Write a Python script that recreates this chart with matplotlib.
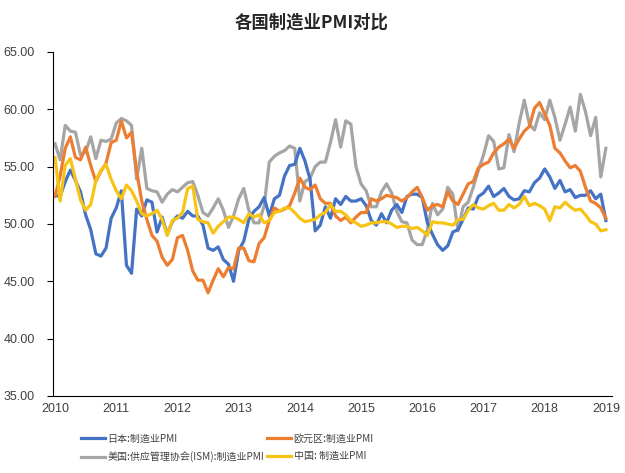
import numpy as np
import matplotlib
matplotlib.use("Agg")
import matplotlib.pyplot as plt

plt.rcParams['font.family'] = ['Liberation Sans', 'Noto Sans CJK SC', 'DejaVu Sans']

# 月度数据: 2010-01 ~ 2019-01
years = [str(y) for y in range(2010, 2020)]

japan = [52.5, 52.4, 53.7, 54.7, 53.8, 52.8, 50.8, 49.5, 47.4, 47.2, 47.9, 50.5,
         51.4, 52.9, 46.4, 45.7, 51.3, 50.7, 52.1, 51.9, 49.3, 50.6, 49.1, 50.2,
         50.7, 50.5, 51.1, 50.7, 50.7, 49.9, 47.9, 47.7, 48.0, 46.9, 46.5, 45.0,
         47.7, 48.5, 50.4, 51.1, 51.5, 52.3, 50.7, 52.2, 52.5, 54.2, 55.1, 55.2,
         56.6, 55.5, 53.9, 49.4, 49.9, 51.5, 50.5, 52.2, 51.7, 52.4, 52.0, 52.0,
         52.2, 51.6, 50.3, 49.9, 50.9, 50.1, 51.2, 51.7, 51.0, 52.4, 52.6, 52.6,
         52.3, 50.1, 49.1, 48.2, 47.7, 48.1, 49.3, 49.5, 50.4, 51.4, 51.3, 52.4,
         52.7, 53.3, 52.4, 52.7, 53.1, 52.4, 52.1, 52.2, 52.9, 52.8, 53.6, 54.0,
         54.8, 54.1, 53.1, 53.8, 52.8, 53.0, 52.3, 52.5, 52.5, 52.9, 52.2, 52.6,
         50.3]

eurozone = [52.4, 54.2, 56.6, 57.6, 55.8, 55.6, 56.7, 55.1, 53.7, 54.6, 55.3, 57.1,
            57.3, 59.0, 57.5, 58.0, 54.6, 52.0, 50.4, 49.0, 48.5, 47.1, 46.4, 46.9,
            48.8, 49.0, 47.7, 45.9, 45.1, 45.1, 44.0, 45.1, 46.1, 45.4, 46.2, 46.1,
            47.9, 47.9, 46.8, 46.7, 48.3, 48.8, 50.3, 51.4, 51.1, 51.3, 51.6, 52.7,
            54.0, 53.2, 53.0, 53.4, 52.2, 51.8, 51.8, 50.7, 50.3, 50.6, 50.1, 50.6,
            51.0, 51.0, 52.2, 52.0, 52.2, 52.5, 52.4, 52.3, 52.0, 52.3, 52.8, 53.2,
            52.3, 51.2, 51.6, 51.7, 51.5, 52.8, 52.0, 51.7, 52.6, 53.5, 53.7, 54.9,
            55.2, 55.4, 56.2, 56.7, 57.0, 57.4, 56.6, 57.4, 58.1, 58.5, 60.1, 60.6,
            59.6, 58.6, 56.6, 56.2, 55.5, 54.9, 55.1, 54.6, 53.2, 52.0, 51.8, 51.4,
            50.5]

usa_ism = [57.0, 55.6, 58.6, 58.1, 58.0, 56.0, 56.3, 57.6, 55.7, 57.3, 57.2, 57.4,
           58.8, 59.2, 59.0, 58.6, 53.9, 56.6, 53.1, 52.9, 52.8, 51.9, 52.6, 53.0,
           52.8, 53.2, 53.6, 53.7, 52.5, 51.0, 50.7, 51.4, 52.2, 51.2, 49.7, 50.7,
           52.2, 53.1, 51.2, 50.1, 50.1, 51.6, 55.4, 55.9, 56.2, 56.4, 56.8, 56.6,
           52.0, 53.7, 54.0, 55.0, 55.4, 55.4, 57.1, 59.1, 56.7, 59.0, 58.7, 55.0,
           53.5, 52.9, 51.5, 51.5, 52.8, 53.5, 52.7, 51.1, 50.2, 50.1, 48.6, 48.2,
           48.2, 49.5, 51.8, 50.8, 51.3, 53.2, 52.6, 49.4, 51.5, 51.9, 53.2, 54.7,
           56.0, 57.7, 57.2, 54.8, 54.9, 57.8, 56.3, 58.8, 60.8, 58.7, 58.2, 59.7,
           59.1, 60.8, 59.3, 57.3, 58.7, 60.2, 58.1, 61.3, 59.8, 57.7, 59.3, 54.1,
           56.6]

china = [55.8, 52.0, 55.1, 55.7, 53.9, 52.1, 51.2, 51.7, 53.8, 54.7, 55.2, 53.9,
         52.9, 52.2, 53.4, 52.9, 52.0, 50.9, 50.7, 50.9, 51.2, 50.4, 49.0, 50.3,
         50.5, 51.0, 53.1, 53.3, 50.4, 50.2, 50.1, 49.2, 49.8, 50.2, 50.6, 50.6,
         50.4, 50.1, 50.9, 50.6, 50.8, 50.1, 50.3, 51.0, 51.1, 51.4, 51.4, 51.0,
         50.5, 50.2, 50.3, 50.4, 50.8, 51.0, 51.7, 51.1, 51.1, 50.8, 50.3, 50.1,
         49.8, 49.9, 50.1, 50.1, 50.2, 50.2, 50.0, 49.7, 49.8, 49.8, 49.6, 49.7,
         49.4, 49.0, 50.2, 50.1, 50.1, 50.0, 49.9, 50.4, 50.4, 51.2, 51.7, 51.4,
         51.3, 51.6, 51.8, 51.2, 51.2, 51.7, 51.4, 51.7, 52.4, 51.6, 51.8, 51.6,
         51.3, 50.3, 51.5, 51.4, 51.9, 51.5, 51.2, 51.3, 50.8, 50.2, 50.0, 49.4,
         49.5]

labels = ['日本:制造业PMI', '欧元区:制造业PMI',
          '美国:供应管理协会(ISM):制造业PMI', '中国: 制造业PMI']
colors = ['#4472C4', '#ED7D31', '#A5A5A5', '#F7C315']

months = np.arange(len(japan))

fig = plt.figure(figsize=(6.25, 4.73), dpi=100)
ax = fig.add_axes([0.0848, 0.1628, 0.8944, 0.7273])

lw = 2.3
l_us, = ax.plot(months, usa_ism, color=colors[2], lw=lw, label=labels[2])
l_jp, = ax.plot(months, japan, color=colors[0], lw=lw, label=labels[0])
l_ez, = ax.plot(months, eurozone, color=colors[1], lw=lw, label=labels[1])
l_cn, = ax.plot(months, china, color=colors[3], lw=lw, label=labels[3])

ax.set_ylim(35, 65)
ax.set_yticks(np.arange(35, 66, 5))
ax.set_yticklabels(['%.2f' % v for v in np.arange(35, 66, 5)])
ax.set_xlim(-0.4, 109.2)
ax.set_xticks(np.arange(0, 109, 12))
ax.set_xticklabels(years)

for s in ['top', 'right']:
    ax.spines[s].set_visible(False)
ax.spines['left'].set_color('#000000')
ax.spines['bottom'].set_color('#000000')
ax.tick_params(axis='y', length=4, pad=9, labelsize=9, colors='#000000', labelcolor='#404040')
ax.tick_params(axis='x', length=0, labelsize=9, labelcolor='#404040', pad=5)

fig.text(0.498, 0.953, '各国制造业PMI对比', ha='center', va='center',
         fontsize=12.5, fontweight='bold', family=['Noto Sans CJK SC', 'DejaVu Sans'],
         color='#262626')

leg = fig.legend([l_jp, l_us, l_ez, l_cn],
                 [labels[0], labels[2], labels[1], labels[3]],
                 ncol=2, loc='upper left', bbox_to_anchor=(0.115, 0.102),
                 frameon=False, handlelength=2.4,
                 columnspacing=0.3, handletextpad=0.25, labelspacing=0.75,
                 prop={'family': ['Noto Sans CJK SC', 'DejaVu Sans'], 'size': 7.2})
for t in leg.get_texts():
    t.set_color('#404040')

fig.savefig('out.png', dpi=100, facecolor='white')
